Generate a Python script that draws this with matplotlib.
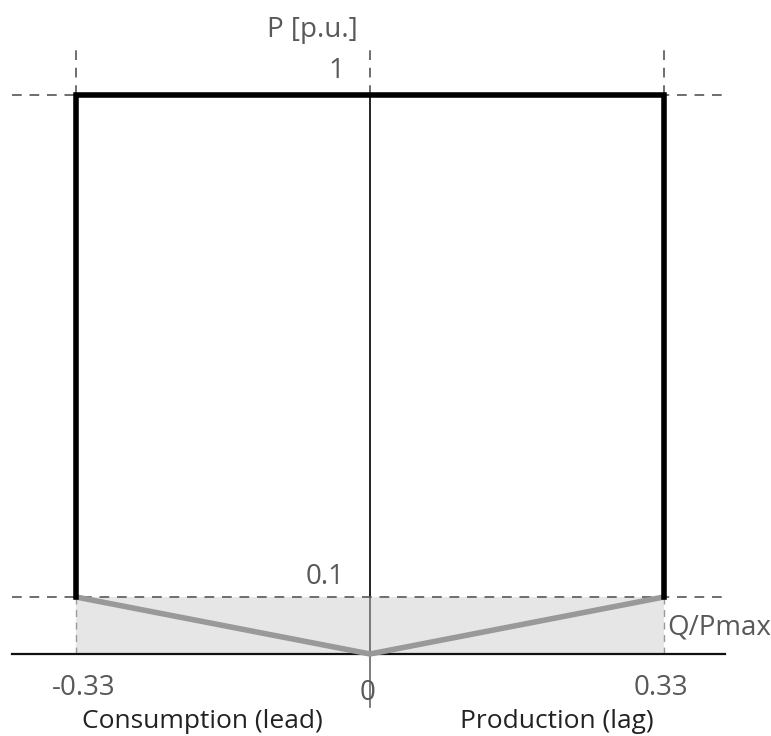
import numpy as np
import matplotlib.pyplot as plt

# capability limits (Q/Pmax, P in p.u.)
q_max = 0.33
p_min = 0.1
p_max = 1.0

rect_q = [-q_max, -q_max, q_max, q_max]
rect_p = [p_min, p_max, p_max, p_min]
v_q = [-q_max, 0, q_max]
v_p = [p_min, 0, p_min]

x_ticks = [-0.33, 0, 0.33]
x_tick_labels = ['-0.33', '0', '0.33']


# the drawing is not to scale: the band 0..0.1 is stretched
def fwd(y):
    y = np.asarray(y, dtype=float)
    return np.where(y <= 0.1, y * 570.0, 57.0 + (y - 0.1) * 502.0 / 0.9)


def inv(f):
    f = np.asarray(f, dtype=float)
    return np.where(f <= 57.0, f / 570.0, 0.1 + (f - 57.0) * 0.9 / 502.0)


plt.rcParams['font.family'] = ['Open Sans', 'DejaVu Sans']

fig = plt.figure(figsize=(7.71, 7.36), dpi=100)
ax = fig.add_axes([0, 0, 1, 1])
ax.set_yscale('function', functions=(fwd, inv))
ax.set_xlim(-0.4153, 0.4501)
ax.set_ylim(-0.1439, 1.1703)
ax.axis('off')

xl, xr = -0.402, 0.398
dash = dict(color='#6e6e6e', lw=1.4, ls=(0, (5, 4)))

# shaded region under P = 0.1
ax.fill_between([-q_max, q_max], 0, p_min, color='#e6e6e6', lw=0, zorder=1)

# horizontal guides
ax.plot([xl, xr], [p_max, p_max], **dash, zorder=2)
ax.plot([xl, xr], [p_min, p_min], **dash, zorder=2)
ax.plot([xl, xr], [0, 0], color='#111111', lw=1.6, zorder=3)

# vertical guides above the box
for q in v_q:
    ax.plot([q, q], [p_max, 1.086], **dash, zorder=2)
for q in [-q_max, q_max]:
    ax.plot([q, q], [0, p_min], color='#999999', lw=1.0, ls=(0, (5, 4)), zorder=2)

# P axis
ax.plot([0, 0], [p_min, p_max], color='#111111', lw=1.3, zorder=3)
ax.plot([0, 0], [-0.093, p_min], color='#666666', lw=1.2, zorder=3)

# V-shaped minimum limit
ax.plot(v_q, v_p, color='#999999', lw=4, solid_capstyle='round', zorder=4)

# capability box
ax.plot(rect_q, rect_p, color='#000000', lw=4, solid_joinstyle='miter', zorder=5)

grey = '#595959'
ax.text(-0.065, 1.1165, 'P [p.u.]', fontsize=20, color=grey, ha='center', va='center')
ax.text(-0.038, 1.043, '1', fontsize=20, color=grey, ha='center', va='center')
ax.text(-0.0505, 0.136, '0.1', fontsize=20, color=grey, ha='center', va='center')
ax.text(q_max + 0.004, 0.0456, 'Q/Pmax', fontsize=20, color=grey, ha='left', va='center')

tick_x = [-0.321, -0.003, 0.3266]
tick_y = [-0.06, -0.069, -0.06]
for x, y, lab in zip(tick_x, tick_y, x_tick_labels):
    ax.text(x, y, lab, fontsize=20, color=grey, ha='center', va='center')

ax.text(-0.1886, -0.118, 'Consumption (lead)', fontsize=19, color='#222222', ha='center', va='center')
ax.text(0.210, -0.118, 'Production (lag)', fontsize=19, color='#222222', ha='center', va='center')

fig.savefig('out.png', dpi=100, facecolor='white')
